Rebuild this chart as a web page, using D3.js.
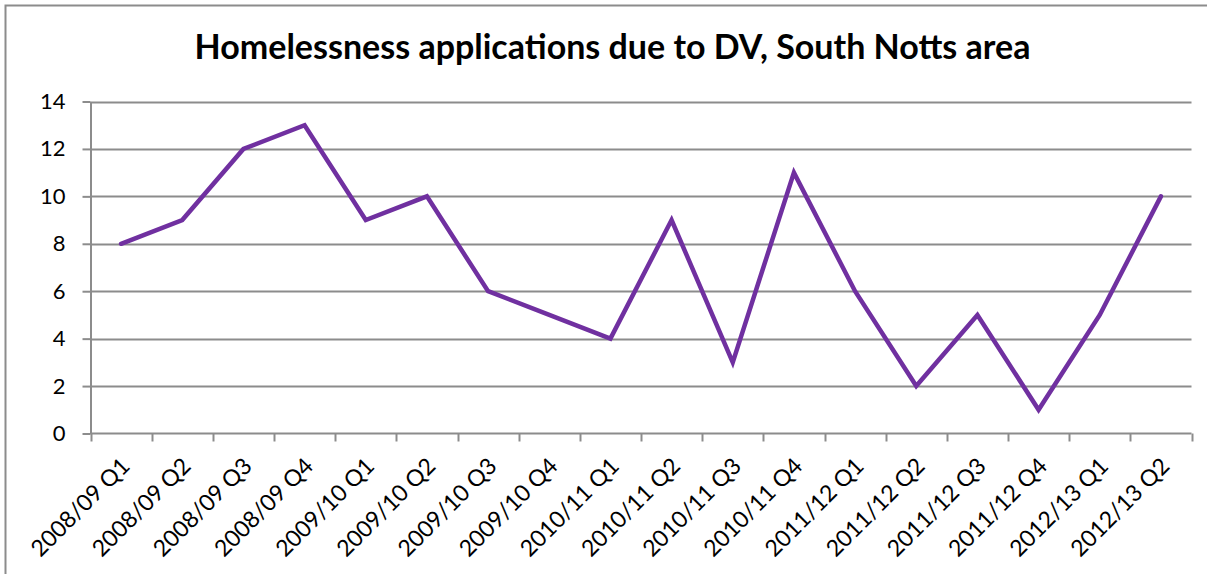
<!DOCTYPE html>
<html>
<head>
<meta charset="utf-8">
<script src="https://cdn.jsdelivr.net/npm/d3@7"></script>
<style>
  html, body { margin: 0; padding: 0; background: #fff; }
  svg { display: block; }
  text { font-family: Lato, "Open Sans", "Liberation Sans", sans-serif; }
</style>
</head>
<body>
<svg id="chart" width="1207" height="574"></svg>
<script>
// Quarterly homelessness applications due to domestic violence
const quarters = [
  "2008/09 Q1", "2008/09 Q2", "2008/09 Q3", "2008/09 Q4",
  "2009/10 Q1", "2009/10 Q2", "2009/10 Q3", "2009/10 Q4",
  "2010/11 Q1", "2010/11 Q2", "2010/11 Q3", "2010/11 Q4",
  "2011/12 Q1", "2011/12 Q2", "2011/12 Q3", "2011/12 Q4",
  "2012/13 Q1", "2012/13 Q2"
];
const applications = [8, 9, 12, 13, 9, 10, 6, 5, 4, 9, 3, 11, 6, 2, 5, 1, 5, 10];
const yTicks = [0, 2, 4, 6, 8, 10, 12, 14];
const chartTitle = "Homelessness applications due to DV, South Notts area";

const svg = d3.select("#chart");
const W = 1207, H = 574;
const plot = { left: 90.5, right: 1191.5, top: 101.5, bottom: 433.5 };

// Outer chart frame
svg.append("rect")
  .attr("x", 5.5).attr("y", 5.5)
  .attr("width", W + 10).attr("height", H + 10)
  .attr("fill", "#fff").attr("stroke", "#8c8c8c").attr("stroke-width", 2);

svg.append("text")
  .attr("x", 612.5).attr("y", 59)
  .attr("text-anchor", "middle")
  .attr("font-size", 34).attr("font-weight", "bold")
  .attr("fill", "#000")
  .text(chartTitle);

const x = d3.scaleBand().domain(quarters).range([plot.left, plot.right]);
const y = d3.scaleLinear().domain([0, 14]).range([plot.bottom, plot.top]);

// Horizontal gridlines
svg.append("g")
  .selectAll("line")
  .data(yTicks.filter(d => d > 0))
  .join("line")
  .attr("x1", plot.left).attr("x2", plot.right)
  .attr("y1", d => Math.round(y(d)) + 0.5).attr("y2", d => Math.round(y(d)) + 0.5)
  .attr("stroke", "#8c8c8c").attr("stroke-width", 2);

// Y axis
const yAxis = svg.append("g")
  .attr("transform", `translate(${plot.left},0)`)
  .call(d3.axisLeft(y).tickValues(yTicks).tickSize(8).tickPadding(17).tickSizeOuter(0));
yAxis.select(".domain").attr("stroke", "#8c8c8c").attr("stroke-width", 2);
yAxis.selectAll(".tick line").attr("stroke", "#8c8c8c").attr("stroke-width", 2);
yAxis.selectAll(".tick text")
  .attr("font-size", 22).attr("fill", "#000")
  .attr("font-family", 'Lato, "Open Sans", sans-serif');

// X axis with ticks on band boundaries
const xAxisG = svg.append("g").attr("transform", `translate(0,${plot.bottom})`);
xAxisG.append("line")
  .attr("x1", plot.left).attr("x2", plot.right)
  .attr("y1", 0).attr("y2", 0)
  .attr("stroke", "#8c8c8c").attr("stroke-width", 2);
const boundaries = quarters.map(q => x(q)).concat([plot.right]);
xAxisG.selectAll("line.tick")
  .data(boundaries)
  .join("line")
  .attr("class", "tick")
  .attr("x1", d => Math.round(d) + 0.5).attr("x2", d => Math.round(d) + 0.5)
  .attr("y1", 0).attr("y2", 8)
  .attr("stroke", "#8c8c8c").attr("stroke-width", 2);
xAxisG.selectAll("text")
  .data(quarters)
  .join("text")
  .attr("transform", d => `translate(${x(d) + x.bandwidth() / 2 + 10},${34}) rotate(-45)`)
  .attr("text-anchor", "end")
  .attr("font-size", 23)
  .attr("fill", "#000")
  .text(d => d);

// Data line
const line = d3.line()
  .x((d, i) => x(quarters[i]) + x.bandwidth() / 2)
  .y(d => y(d));
svg.append("path")
  .datum(applications)
  .attr("d", line)
  .attr("fill", "none")
  .attr("stroke", "#7030a0")
  .attr("stroke-width", 4.5)
  .attr("stroke-linejoin", "miter")
  .attr("stroke-linecap", "round");
</script>
</body>
</html>
